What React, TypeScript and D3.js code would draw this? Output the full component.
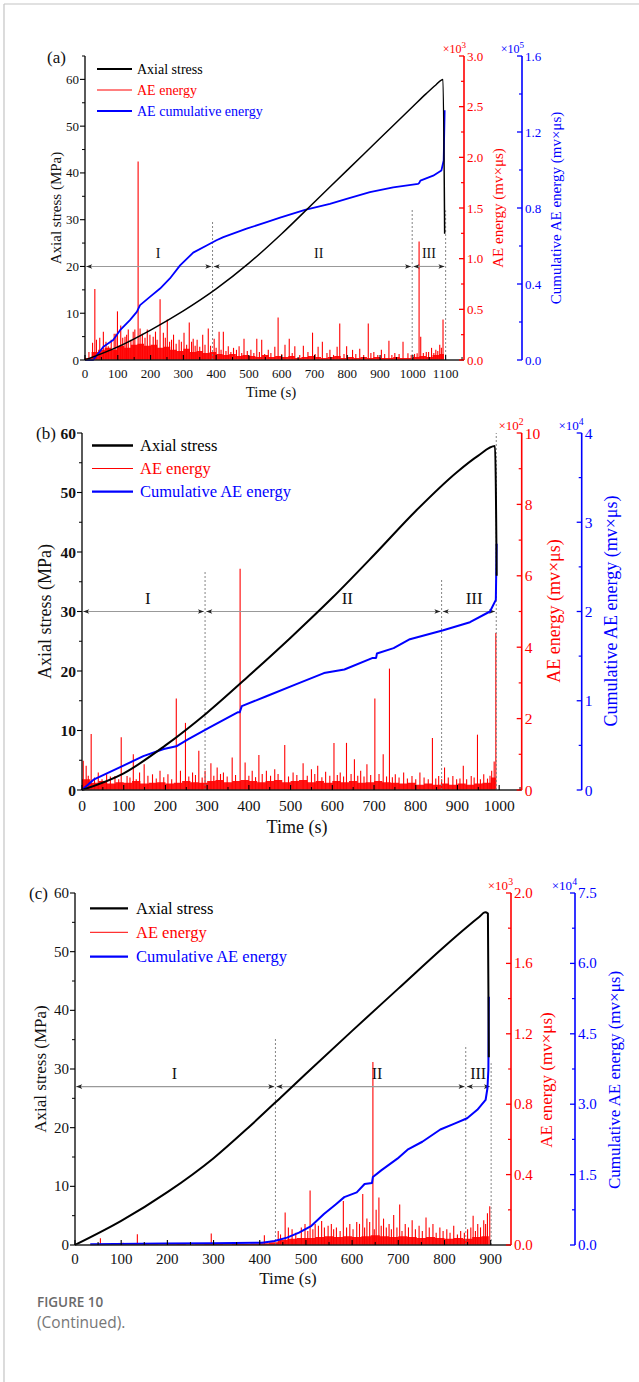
import React from "react";
import * as d3 from "d3";

// ================= DATA =================
// ---- Panel (a) ----
const stressA_t = [0, 100, 200, 300, 400, 500, 600, 700, 800, 900, 1000, 1040, 1070, 1092, 1097];
const stressA_v = [0, 2.8, 6.4, 10.5, 15.2, 20.7, 27.0, 33.8, 40.6, 47.4, 54.2, 56.9, 58.8, 60, 27];
const cumA_t = [0, 25, 56, 86, 107, 137, 158, 168, 198, 229, 259, 290, 330, 371, 401, 422, 493, 554, 595, 671, 747, 798, 869, 940, 1016, 1020, 1023, 1062, 1087, 1094, 1097];
const cumA_v = [0, 0, 0.07, 0.105, 0.157, 0.21, 0.253, 0.289, 0.332, 0.376, 0.429, 0.498, 0.565, 0.603, 0.63, 0.647, 0.691, 0.726, 0.749, 0.79, 0.822, 0.848, 0.883, 0.909, 0.927, 0.933, 0.944, 0.97, 0.997, 1.05, 1.315];
const envA_t = [0, 20, 40, 60, 80, 100, 120, 140, 160, 180, 200, 220, 240, 260, 280, 300, 320, 340, 360, 380, 400, 420, 440, 460, 480, 500, 520, 540, 560, 580, 600, 620, 640, 660, 680, 700, 720, 740, 760, 780, 800, 820, 840, 860, 880, 900, 920, 940, 960, 980, 1000, 1020, 1040, 1060, 1080, 1095];
const envA_v = [0.02, 0.08, 0.1, 0.12, 0.1, 0.14, 0.12, 0.15, 0.16, 0.14, 0.15, 0.12, 0.13, 0.1, 0.09, 0.11, 0.08, 0.09, 0.07, 0.08, 0.06, 0.05, 0.06, 0.04, 0.05, 0.04, 0.03, 0.05, 0.03, 0.04, 0.03, 0.04, 0.02, 0.03, 0.04, 0.03, 0.02, 0.03, 0.04, 0.02, 0.03, 0.02, 0.03, 0.02, 0.03, 0.02, 0.02, 0.03, 0.02, 0.02, 0.03, 0.04, 0.03, 0.05, 0.06, 0.06];
const spikesA: [number, number][] = [
  [23, 0.17], [30, 0.7], [35, 0.2], [56, 0.28], [71, 0.135], [89, 0.26], [99, 0.48], [109, 0.34], [122, 0.23], [132, 0.3],
  [147, 0.28], [162, 1.96], [168, 0.31], [190, 0.3], [208, 0.23], [229, 0.6], [239, 0.27], [251, 0.4], [270, 0.25], [287, 0.2],
  [302, 0.27], [318, 0.37], [330, 0.21], [342, 0.2], [359, 0.25], [376, 0.31], [394, 0.21], [409, 0.28], [422, 0.28], [437, 0.135],
  [453, 0.12], [470, 0.135], [485, 0.21], [506, 0.1], [524, 0.21], [539, 0.2], [559, 0.1], [579, 0.13], [589, 0.42], [610, 0.15],
  [623, 0.21], [640, 0.135], [666, 0.14], [694, 0.27], [711, 0.13], [724, 0.18], [747, 0.1], [769, 0.13], [777, 0.36], [798, 0.135],
  [816, 0.1], [838, 0.11], [864, 0.36], [881, 0.08], [904, 0.1], [927, 0.19], [945, 0.07], [970, 0.18], [985, 0.067], [1013, 0.067],
  [1019, 1.17], [1024, 0.23], [1041, 0.08], [1057, 0.12], [1070, 0.1], [1082, 0.15], [1092, 0.4],
  [12, 0.08], [45, 0.22], [64, 0.18], [80, 0.2], [94, 0.26], [115, 0.22], [127, 0.25], [140, 0.2], [152, 0.3], [175, 0.26],
  [183, 0.22], [198, 0.25], [215, 0.28], [220, 0.2], [245, 0.22], [258, 0.18], [264, 0.2], [278, 0.16], [294, 0.18], [310, 0.15],
  [325, 0.18], [336, 0.14], [350, 0.13], [366, 0.15], [383, 0.14], [400, 0.12], [415, 0.1], [430, 0.09], [445, 0.08], [462, 0.1],
  [478, 0.07], [495, 0.09], [515, 0.07], [532, 0.08], [548, 0.06], [567, 0.07], [600, 0.06], [632, 0.07], [655, 0.05], [680, 0.08],
  [702, 0.06], [738, 0.07], [758, 0.05], [790, 0.06], [826, 0.06], [850, 0.05], [872, 0.07], [893, 0.05], [914, 0.06], [936, 0.05],
  [958, 0.06], [995, 0.05], [1005, 0.06], [1032, 0.07], [1048, 0.08], [1064, 0.07], [1076, 0.09], [1087, 0.12],
];
const stagesA_t = [0, 389, 998, 1100];
const dottedTopA = [29.9, 32.3, 32];
const stageLabelA_t = [223, 713, 1049];

// ---- Panel (b) ----
const stressB_t = [0, 100, 200, 300, 400, 500, 600, 700, 800, 900, 950, 990, 994];
const stressB_v = [0, 2.8, 7.5, 13.0, 19.2, 25.6, 32.3, 39.5, 46.9, 53.5, 56.2, 57.8, 36];
const cumB_t = [0, 29, 98, 147, 196, 226, 255, 305, 373, 378, 383, 442, 511, 580, 629, 697, 705, 707, 747, 786, 866, 930, 978, 992, 994];
const cumB_v = [0, 0.12, 0.27, 0.38, 0.46, 0.49, 0.57, 0.7, 0.87, 0.87, 0.94, 1.05, 1.18, 1.31, 1.35, 1.48, 1.48, 1.53, 1.59, 1.69, 1.79, 1.88, 2.0, 2.13, 2.76];
const envB_t = [0, 20, 40, 60, 80, 100, 120, 140, 160, 180, 200, 220, 240, 260, 280, 300, 320, 340, 360, 380, 400, 420, 440, 460, 480, 500, 520, 540, 560, 580, 600, 620, 640, 660, 680, 700, 720, 740, 760, 780, 800, 820, 840, 860, 880, 900, 920, 940, 960, 980, 992];
const envB_v = [0.3, 0.2, 0.25, 0.18, 0.22, 0.2, 0.25, 0.18, 0.2, 0.22, 0.18, 0.2, 0.25, 0.22, 0.2, 0.25, 0.28, 0.22, 0.25, 0.28, 0.25, 0.22, 0.25, 0.28, 0.22, 0.25, 0.28, 0.22, 0.25, 0.2, 0.25, 0.22, 0.25, 0.2, 0.22, 0.25, 0.22, 0.2, 0.18, 0.2, 0.15, 0.18, 0.15, 0.18, 0.15, 0.18, 0.15, 0.18, 0.2, 0.35, 0.35];
const spikesB: [number, number][] = [
  [3, 0.82], [10, 0.68], [22, 1.57], [39, 0.49], [59, 0.44], [79, 0.39], [94, 1.48], [108, 0.39], [123, 1.0], [138, 0.49],
  [149, 0.72], [169, 0.44], [187, 0.54], [206, 0.44], [226, 2.56], [236, 0.54], [248, 1.88], [265, 0.49], [280, 1.1], [295, 0.54],
  [309, 0.75], [324, 0.63], [339, 0.49], [360, 0.91], [379, 6.2], [391, 0.77], [408, 0.54], [424, 0.98], [442, 0.54], [462, 0.58],
  [486, 1.26], [506, 0.49], [530, 0.75], [550, 0.58], [565, 0.68], [584, 0.51], [604, 1.32], [619, 0.49], [634, 1.32], [653, 0.86],
  [668, 0.54], [683, 0.72], [702, 2.56], [722, 1.0], [737, 3.4], [751, 0.44], [771, 0.49], [791, 0.39], [810, 0.49], [840, 1.46],
  [855, 0.39], [869, 0.63], [889, 0.39], [914, 0.68], [933, 0.39], [948, 1.55], [963, 0.44], [982, 0.54], [988, 0.8], [992, 4.4],
  [15, 0.4], [30, 0.35], [48, 0.3], [68, 0.38], [88, 0.3], [115, 0.35], [130, 0.3], [158, 0.4], [178, 0.32], [196, 0.36],
  [215, 0.3], [256, 0.38], [272, 0.42], [288, 0.35], [316, 0.4], [332, 0.45], [348, 0.38], [368, 0.42], [400, 0.4], [416, 0.36],
  [432, 0.45], [452, 0.4], [470, 0.45], [495, 0.38], [515, 0.42], [540, 0.4], [558, 0.45], [575, 0.36], [594, 0.4], [612, 0.42],
  [627, 0.38], [645, 0.45], [661, 0.4], [676, 0.38], [692, 0.42], [712, 0.45], [730, 0.38], [744, 0.36], [760, 0.35], [780, 0.32],
  [800, 0.3], [820, 0.35], [830, 0.3], [848, 0.32], [862, 0.3], [878, 0.35], [898, 0.3], [906, 0.32], [922, 0.3], [940, 0.35],
  [955, 0.3], [972, 0.32], [978, 0.4],
];
const stagesB_t = [0, 295, 862, 993];
const dottedTopB = [36.7, 35.5, 60];
const stageLabelB_t = [158, 636, 940];

// ---- Panel (c) ----
const stressC_t = [0, 100, 200, 300, 375, 450, 500, 600, 700, 800, 850, 875, 888, 894, 896];
const stressC_v = [0, 4.1, 9.0, 14.8, 20.0, 25.5, 29.2, 36.5, 43.7, 50.9, 54.3, 55.9, 56.7, 56.5, 32];
const cumC_t = [33, 193, 299, 405, 432, 459, 485, 512, 539, 565, 583, 610, 627, 643, 645, 663, 698, 720, 752, 791, 823, 849, 871, 889, 893, 895, 896];
const cumC_v = [0.014, 0.03, 0.036, 0.05, 0.086, 0.157, 0.265, 0.41, 0.66, 0.87, 1.02, 1.12, 1.3, 1.32, 1.45, 1.59, 1.84, 2.03, 2.2, 2.46, 2.59, 2.7, 2.88, 3.09, 3.34, 3.73, 5.29];
const envC_t = [0, 20, 40, 60, 80, 100, 120, 140, 160, 180, 200, 220, 240, 260, 280, 300, 320, 340, 360, 380, 400, 420, 440, 460, 480, 500, 520, 540, 560, 580, 600, 620, 640, 660, 680, 700, 720, 740, 760, 780, 800, 820, 840, 860, 880, 896];
const envC_v = [0, 0, 0.004, 0.003, 0.004, 0.003, 0.005, 0.006, 0.004, 0.003, 0.004, 0.005, 0.003, 0.004, 0.005, 0.006, 0.004, 0.005, 0.006, 0.008, 0.01, 0.015, 0.03, 0.035, 0.04, 0.04, 0.045, 0.05, 0.045, 0.05, 0.045, 0.05, 0.055, 0.05, 0.045, 0.05, 0.045, 0.04, 0.045, 0.04, 0.035, 0.04, 0.035, 0.045, 0.05, 0.06];
const spikesC: [number, number][] = [
  [55, 0.038], [104, 0.013], [135, 0.061], [150, 0.01], [225, 0.008], [295, 0.065], [350, 0.01], [410, 0.055], [440, 0.08], [455, 0.185],
  [470, 0.09], [490, 0.1], [509, 0.31], [520, 0.12], [534, 0.137], [548, 0.11], [560, 0.09], [581, 0.25], [595, 0.12], [610, 0.13],
  [623, 0.29], [632, 0.15], [645, 1.04], [652, 0.2], [658, 0.27], [668, 0.15], [680, 0.12], [690, 0.17], [703, 0.23], [715, 0.12],
  [730, 0.14], [745, 0.11], [760, 0.156], [775, 0.12], [790, 0.1], [805, 0.09], [820, 0.11], [835, 0.08], [850, 0.09], [862, 0.166],
  [872, 0.12], [885, 0.14], [893, 0.18], [898, 0.22],
  [445, 0.06], [462, 0.1], [478, 0.07], [498, 0.12], [504, 0.08], [515, 0.09], [527, 0.11], [540, 0.1], [555, 0.12], [566, 0.1],
  [574, 0.08], [588, 0.1], [602, 0.09], [616, 0.12], [627, 0.1], [638, 0.13], [648, 0.09], [663, 0.11], [674, 0.1], [685, 0.09],
  [697, 0.1], [708, 0.08], [722, 0.1], [737, 0.09], [752, 0.08], [767, 0.1], [782, 0.07], [797, 0.08], [812, 0.07], [828, 0.06],
  [843, 0.07], [857, 0.1], [867, 0.08], [878, 0.1], [889, 0.12],
];
const stagesC_t = [0, 434, 846, 901];
const dottedTopC = [35.3, 34.1, 31];
const stageLabelC_t = [215, 654, 873];

const stageNames = ["I", "II", "III"];
const legendA = ["Axial stress", "AE energy", "AE cumulative energy"];
const legendBC = ["Axial stress", "AE energy", "Cumulative AE energy"];

// tick values
const xTicksA = [0, 100, 200, 300, 400, 500, 600, 700, 800, 900, 1000, 1100];
const xMinorA = [50, 150, 250, 350, 450, 550, 650, 750, 850, 950, 1050, 1150];
const xTicksB = [0, 100, 200, 300, 400, 500, 600, 700, 800, 900, 1000];
const xMinorB = [50, 150, 250, 350, 450, 550, 650, 750, 850, 950, 1050];
const xTicksC = [0, 100, 200, 300, 400, 500, 600, 700, 800, 900];
const xMinorC = [50, 150, 250, 350, 450, 550, 650, 750, 850];
const sTicks = [0, 10, 20, 30, 40, 50, 60];
const sMinorA = [5, 15, 25, 35, 45, 55, 65];
const sMinorBC = [5, 15, 25, 35, 45, 55];
const rTicksA = [0, 0.5, 1.0, 1.5, 2.0, 2.5, 3.0];
const rMinorA = [0.25, 0.75, 1.25, 1.75, 2.25, 2.75];
const bTicksA = [0, 0.4, 0.8, 1.2, 1.6];
const bMinorA = [0.2, 0.6, 1.0, 1.4];
const rTicksB = [0, 2, 4, 6, 8, 10];
const rMinorB = [1, 3, 5, 7, 9];
const bTicksB = [0, 1, 2, 3, 4];
const bMinorB = [0.5, 1.5, 2.5, 3.5];
const rTicksC = [0, 0.4, 0.8, 1.2, 1.6, 2.0];
const rMinorC = [0.2, 0.6, 1.0, 1.4, 1.8];
const bTicksC = [0, 1.5, 3.0, 4.5, 6.0, 7.5];
const bMinorC = [0.75, 2.25, 3.75, 5.25, 6.75];

// ================= STYLE =================
const SERIF = "'Liberation Serif', serif";
const SANS = "'Open Sans','Noto Sans',sans-serif";
const RED = "#ff0000";
const BLUE = "#0000ff";

const f1 = d3.format(".1f");
const f0 = d3.format("d");

const panels = [
  {
    name: "(a)", nameX: 47, nameY: 63, nameSize: 17,
    left: 85, right: 464, blueX: 522, top: 56, bottom: 360,
    xMax: 1156, sMax: 65, rMax: 3, bMax: 1.6,
    xTicks: xTicksA, xMinor: xMinorA, sMinor: sMinorA,
    rTicks: rTicksA, rMinor: rMinorA, rFmt: f1, rExp: "3",
    bTicks: bTicksA, bMinor: bMinorA, bFmt: f1, bExp: "5",
    stressT: stressA_t, stressV: stressA_v, cumT: cumA_t, cumV: cumA_v,
    envT: envA_t, envV: envA_v, spikes: spikesA,
    stages: stagesA_t, dottedTop: dottedTopA, stageLabelT: stageLabelA_t, stageLevel: 20,
    legend: legendA, legendY: [69, 90, 111], legendX: [97, 132], legendTextX: 137, legendSize: 14,
    tickSize: 13, tickWeight: "normal", titleSize: 15, stageSize: 14, expSize: 12,
    xLabelDy: 13, yTitleX: 56, rTitleX: 498, bTitleX: 556, titleY: 208, xTitleX: 271, xTitleY: 392,
    lw: 1.5, lwCum: 1.8,
  },
  {
    name: "(b)", nameX: 36, nameY: 439, nameSize: 17,
    left: 82, right: 521.7, blueX: 581.7, top: 433, bottom: 790,
    xMax: 1054, sMax: 60, rMax: 10, bMax: 4,
    xTicks: xTicksB, xMinor: xMinorB, sMinor: sMinorBC,
    rTicks: rTicksB, rMinor: rMinorB, rFmt: f0, rExp: "2",
    bTicks: bTicksB, bMinor: bMinorB, bFmt: f0, bExp: "4",
    stressT: stressB_t, stressV: stressB_v, cumT: cumB_t, cumV: cumB_v,
    envT: envB_t, envV: envB_v, spikes: spikesB,
    stages: stagesB_t, dottedTop: dottedTopB, stageLabelT: stageLabelB_t, stageLevel: 30,
    legend: legendBC, legendY: [445.5, 468.5, 491.7], legendX: [92, 133], legendTextX: 140, legendSize: 16.5,
    tickSize: 15.5, tickWeight: "bold", titleSize: 18, stageSize: 17, expSize: 13,
    xLabelDy: 15, yTitleX: 45, rTitleX: 554, bTitleX: 611, titleY: 611, xTitleX: 297, xTitleY: 827,
    lw: 2, lwCum: 2,
  },
  {
    name: "(c)", nameX: 29, nameY: 899, nameSize: 17,
    left: 75, right: 511, blueX: 575, top: 893, bottom: 1245,
    xMax: 944, sMax: 60, rMax: 2, bMax: 7.5,
    xTicks: xTicksC, xMinor: xMinorC, sMinor: sMinorBC,
    rTicks: rTicksC, rMinor: rMinorC, rFmt: f1, rExp: "3",
    bTicks: bTicksC, bMinor: bMinorC, bFmt: f1, bExp: "4",
    stressT: stressC_t, stressV: stressC_v, cumT: cumC_t, cumV: cumC_v,
    envT: envC_t, envV: envC_v, spikes: spikesC,
    stages: stagesC_t, dottedTop: dottedTopC, stageLabelT: stageLabelC_t, stageLevel: 27,
    legend: legendBC, legendY: [908.3, 932.3, 956.7], legendX: [90, 128], legendTextX: 136, legendSize: 16.5,
    tickSize: 15, tickWeight: "normal", titleSize: 17, stageSize: 16, expSize: 13,
    xLabelDy: 14, yTitleX: 40, rTitleX: 546, bTitleX: 614, titleY: 1080, xTitleX: 288, xTitleY: 1278,
    lw: 2, lwCum: 2,
  },
];

type P = (typeof panels)[number];

function Exp({ x, y, base, exp, color, size }: { x: number; y: number; base: string; exp: string; color: string; size: number }) {
  return (
    <text x={x} y={y} textAnchor="end" fill={color} fontSize={size} fontFamily={SERIF}>
      {base}
      <tspan fontSize={size * 0.75} dy={-size * 0.4}>{exp}</tspan>
    </text>
  );
}

function Panel({ c }: { c: P }) {
  const x = d3.scaleLinear().domain([0, c.xMax]).range([c.left, c.right]);
  const ys = d3.scaleLinear().domain([0, c.sMax]).range([c.bottom, c.top]);
  const yr = d3.scaleLinear().domain([0, c.rMax]).range([c.bottom, c.top]);
  const yb = d3.scaleLinear().domain([0, c.bMax]).range([c.bottom, c.top]);

  const stressPath = d3.line<number>().x((_, i) => x(c.stressT[i])).y((d) => ys(d)).curve(d3.curveMonotoneX)(c.stressV) || "";
  const cumPath = d3.line<number>().x((_, i) => x(c.cumT[i])).y((d) => yb(d))(c.cumV) || "";
  const envPath = d3.area<number>().x((_, i) => x(c.envT[i])).y0(yr(0)).y1((d) => yr(d)).curve(d3.curveStepAfter)(c.envV) || "";

  const ay = ys(c.stageLevel);
  const ah = 6, aw = 2.3;
  const midY = (c.top + c.bottom) / 2;
  const tickCol = "#000";

  return (
    <g>
      {/* AE energy */}
      <path d={envPath} fill={RED} opacity={0.92} />
      {c.spikes.map(([t, v], i) => (
        <line key={"s" + i} x1={x(t)} x2={x(t)} y1={yr(0)} y2={yr(v)} stroke={RED} strokeWidth={1.1} />
      ))}

      {/* stage dotted lines */}
      {c.stages.slice(1).map((t, i) => (
        <line key={"d" + i} x1={x(t)} x2={x(t)} y1={ys(0)} y2={ys(c.dottedTop[i])} stroke="#777" strokeWidth={0.9} strokeDasharray="2,2" />
      ))}
      {/* stage arrows */}
      {stageNames.map((nm, i) => {
        const x1 = x(c.stages[i]) + 1.2;
        const x2 = x(c.stages[i + 1]) - 1.2;
        return (
          <g key={"a" + i}>
            <line x1={x1} x2={x2} y1={ay} y2={ay} stroke="#999" strokeWidth={1.1} />
            <polygon points={`${x1},${ay} ${x1 + ah},${ay - aw} ${x1 + ah - 1.5},${ay} ${x1 + ah},${ay + aw}`} fill="#222" />
            <polygon points={`${x2},${ay} ${x2 - ah},${ay - aw} ${x2 - ah + 1.5},${ay} ${x2 - ah},${ay + aw}`} fill="#222" />
            <text x={x(c.stageLabelT[i])} y={ay - 8} textAnchor="middle" fontFamily={SERIF} fontSize={c.stageSize} fill="#111">{nm}</text>
          </g>
        );
      })}

      {/* curves */}
      <path d={cumPath} fill="none" stroke={BLUE} strokeWidth={c.lwCum} strokeLinejoin="round" />
      <path d={stressPath} fill="none" stroke="#000" strokeWidth={c.lw} strokeLinejoin="round" />

      {/* bottom axis */}
      <line x1={c.left} x2={c.right} y1={c.bottom} y2={c.bottom} stroke="#222" strokeWidth={1.3} />
      {c.xTicks.map((t) => (
        <g key={"xt" + t}>
          <line x1={x(t)} x2={x(t)} y1={c.bottom} y2={c.bottom - 5} stroke={tickCol} strokeWidth={1.1} />
          <text x={x(t)} y={c.bottom + c.xLabelDy} dominantBaseline="central" textAnchor="middle" fontFamily={SERIF} fontSize={c.tickSize} fill="#111">{t}</text>
        </g>
      ))}
      {c.xMinor.map((t) => (
        <line key={"xm" + t} x1={x(t)} x2={x(t)} y1={c.bottom} y2={c.bottom - 3} stroke={tickCol} strokeWidth={1} />
      ))}
      <text x={c.xTitleX} y={c.xTitleY} dominantBaseline="central" textAnchor="middle" fontFamily={SERIF} fontSize={c.titleSize} fill="#111">Time (s)</text>

      {/* left axis */}
      <line x1={c.left} x2={c.left} y1={c.bottom} y2={ys(c.sMax)} stroke="#000" strokeWidth={1.3} />
      {sTicks.map((v) => (
        <g key={"st" + v}>
          <line x1={c.left} x2={c.left - 5} y1={ys(v)} y2={ys(v)} stroke={tickCol} strokeWidth={1.1} />
          <text x={c.left - 6} y={ys(v)} dominantBaseline="central" textAnchor="end" fontFamily={SERIF} fontSize={c.tickSize} fontWeight={c.tickWeight} fill="#111">{v}</text>
        </g>
      ))}
      {c.sMinor.map((v) => (
        <line key={"sm" + v} x1={c.left} x2={c.left - 3} y1={ys(v)} y2={ys(v)} stroke={tickCol} strokeWidth={1} />
      ))}
      <text transform={`translate(${c.yTitleX},${midY}) rotate(-90)`} textAnchor="middle" dominantBaseline="central" fontFamily={SERIF} fontSize={c.titleSize} fill="#111">Axial stress (MPa)</text>

      {/* red axis */}
      <line x1={c.right} x2={c.right} y1={c.bottom} y2={yr(c.rMax)} stroke={RED} strokeWidth={1.6} />
      {c.rTicks.map((v) => (
        <g key={"rt" + v}>
          <line x1={c.right} x2={c.right - 5} y1={yr(v)} y2={yr(v)} stroke={RED} strokeWidth={1.3} />
          <text x={c.right + 3} y={yr(v)} dominantBaseline="central" textAnchor="start" fontFamily={SERIF} fontSize={c.tickSize} fill={RED}>{c.rFmt(v)}</text>
        </g>
      ))}
      {c.rMinor.map((v) => (
        <line key={"rm" + v} x1={c.right} x2={c.right - 3} y1={yr(v)} y2={yr(v)} stroke={RED} strokeWidth={1.2} />
      ))}
      <Exp x={c.right + 2} y={c.top - 3} base="×10" exp={c.rExp} color={RED} size={c.expSize} />
      <text transform={`translate(${c.rTitleX},${c.titleY}) rotate(-90)`} textAnchor="middle" dominantBaseline="central" fontFamily={SERIF} fontSize={c.titleSize} fill={RED}>AE energy (mv×μs)</text>

      {/* blue axis */}
      <line x1={c.blueX} x2={c.blueX} y1={c.bottom} y2={yb(c.bMax)} stroke={BLUE} strokeWidth={1.6} />
      {c.bTicks.map((v) => (
        <g key={"bt" + v}>
          <line x1={c.blueX} x2={c.blueX - 5} y1={yb(v)} y2={yb(v)} stroke={BLUE} strokeWidth={1.3} />
          <text x={c.blueX + 3} y={yb(v)} dominantBaseline="central" textAnchor="start" fontFamily={SERIF} fontSize={c.tickSize} fill={BLUE}>{c.bFmt(v)}</text>
        </g>
      ))}
      {c.bMinor.map((v) => (
        <line key={"bm" + v} x1={c.blueX} x2={c.blueX - 3} y1={yb(v)} y2={yb(v)} stroke={BLUE} strokeWidth={1.2} />
      ))}
      <Exp x={c.blueX + 2} y={c.top - 3} base="×10" exp={c.bExp} color={BLUE} size={c.expSize} />
      <text transform={`translate(${c.bTitleX},${c.titleY}) rotate(-90)`} textAnchor="middle" dominantBaseline="central" fontFamily={SERIF} fontSize={c.titleSize} fill={BLUE}>Cumulative AE energy (mv×μs)</text>

      {/* panel label */}
      <text x={c.nameX} y={c.nameY} fontFamily={SERIF} fontSize={c.nameSize} fill="#111">{c.name}</text>

      {/* legend */}
      {c.legend.map((lab, i) => {
        const col = i === 0 ? "#000" : i === 1 ? RED : BLUE;
        const w = i === 1 ? 1 : c.lw + 0.3;
        return (
          <g key={"lg" + i}>
            <line x1={c.legendX[0]} x2={c.legendX[1]} y1={c.legendY[i]} y2={c.legendY[i]} stroke={col} strokeWidth={w} />
            <text x={c.legendTextX} y={c.legendY[i]} dominantBaseline="central" fontFamily={SERIF} fontSize={c.legendSize} fill={col}>{lab}</text>
          </g>
        );
      })}
    </g>
  );
}

export default function App() {
  return (
    <div style={{ position: "absolute", left: 0, top: 0 }}>
      <svg width={639} height={1382} viewBox="0 0 639 1382" style={{ display: "block", background: "#fff" }}>
        <rect x={0} y={0} width={639} height={1382} fill="#fff" />
        <line x1={4} x2={639} y1={4} y2={4} stroke="#c4c4c4" strokeWidth={1.2} />
        <line x1={4} x2={4} y1={4} y2={1382} stroke="#c4c4c4" strokeWidth={1.2} />
        {panels.map((p) => (
          <Panel key={p.name} c={p} />
        ))}
        <text x={37} y={1307} fontFamily={SANS} fontSize={13.5} fontWeight={600} fill="#6a6a6a">FIGURE 10</text>
        <text x={37} y={1328} fontFamily={SANS} fontSize={15.5} fill="#777">(Continued).</text>
      </svg>
    </div>
  );
}
